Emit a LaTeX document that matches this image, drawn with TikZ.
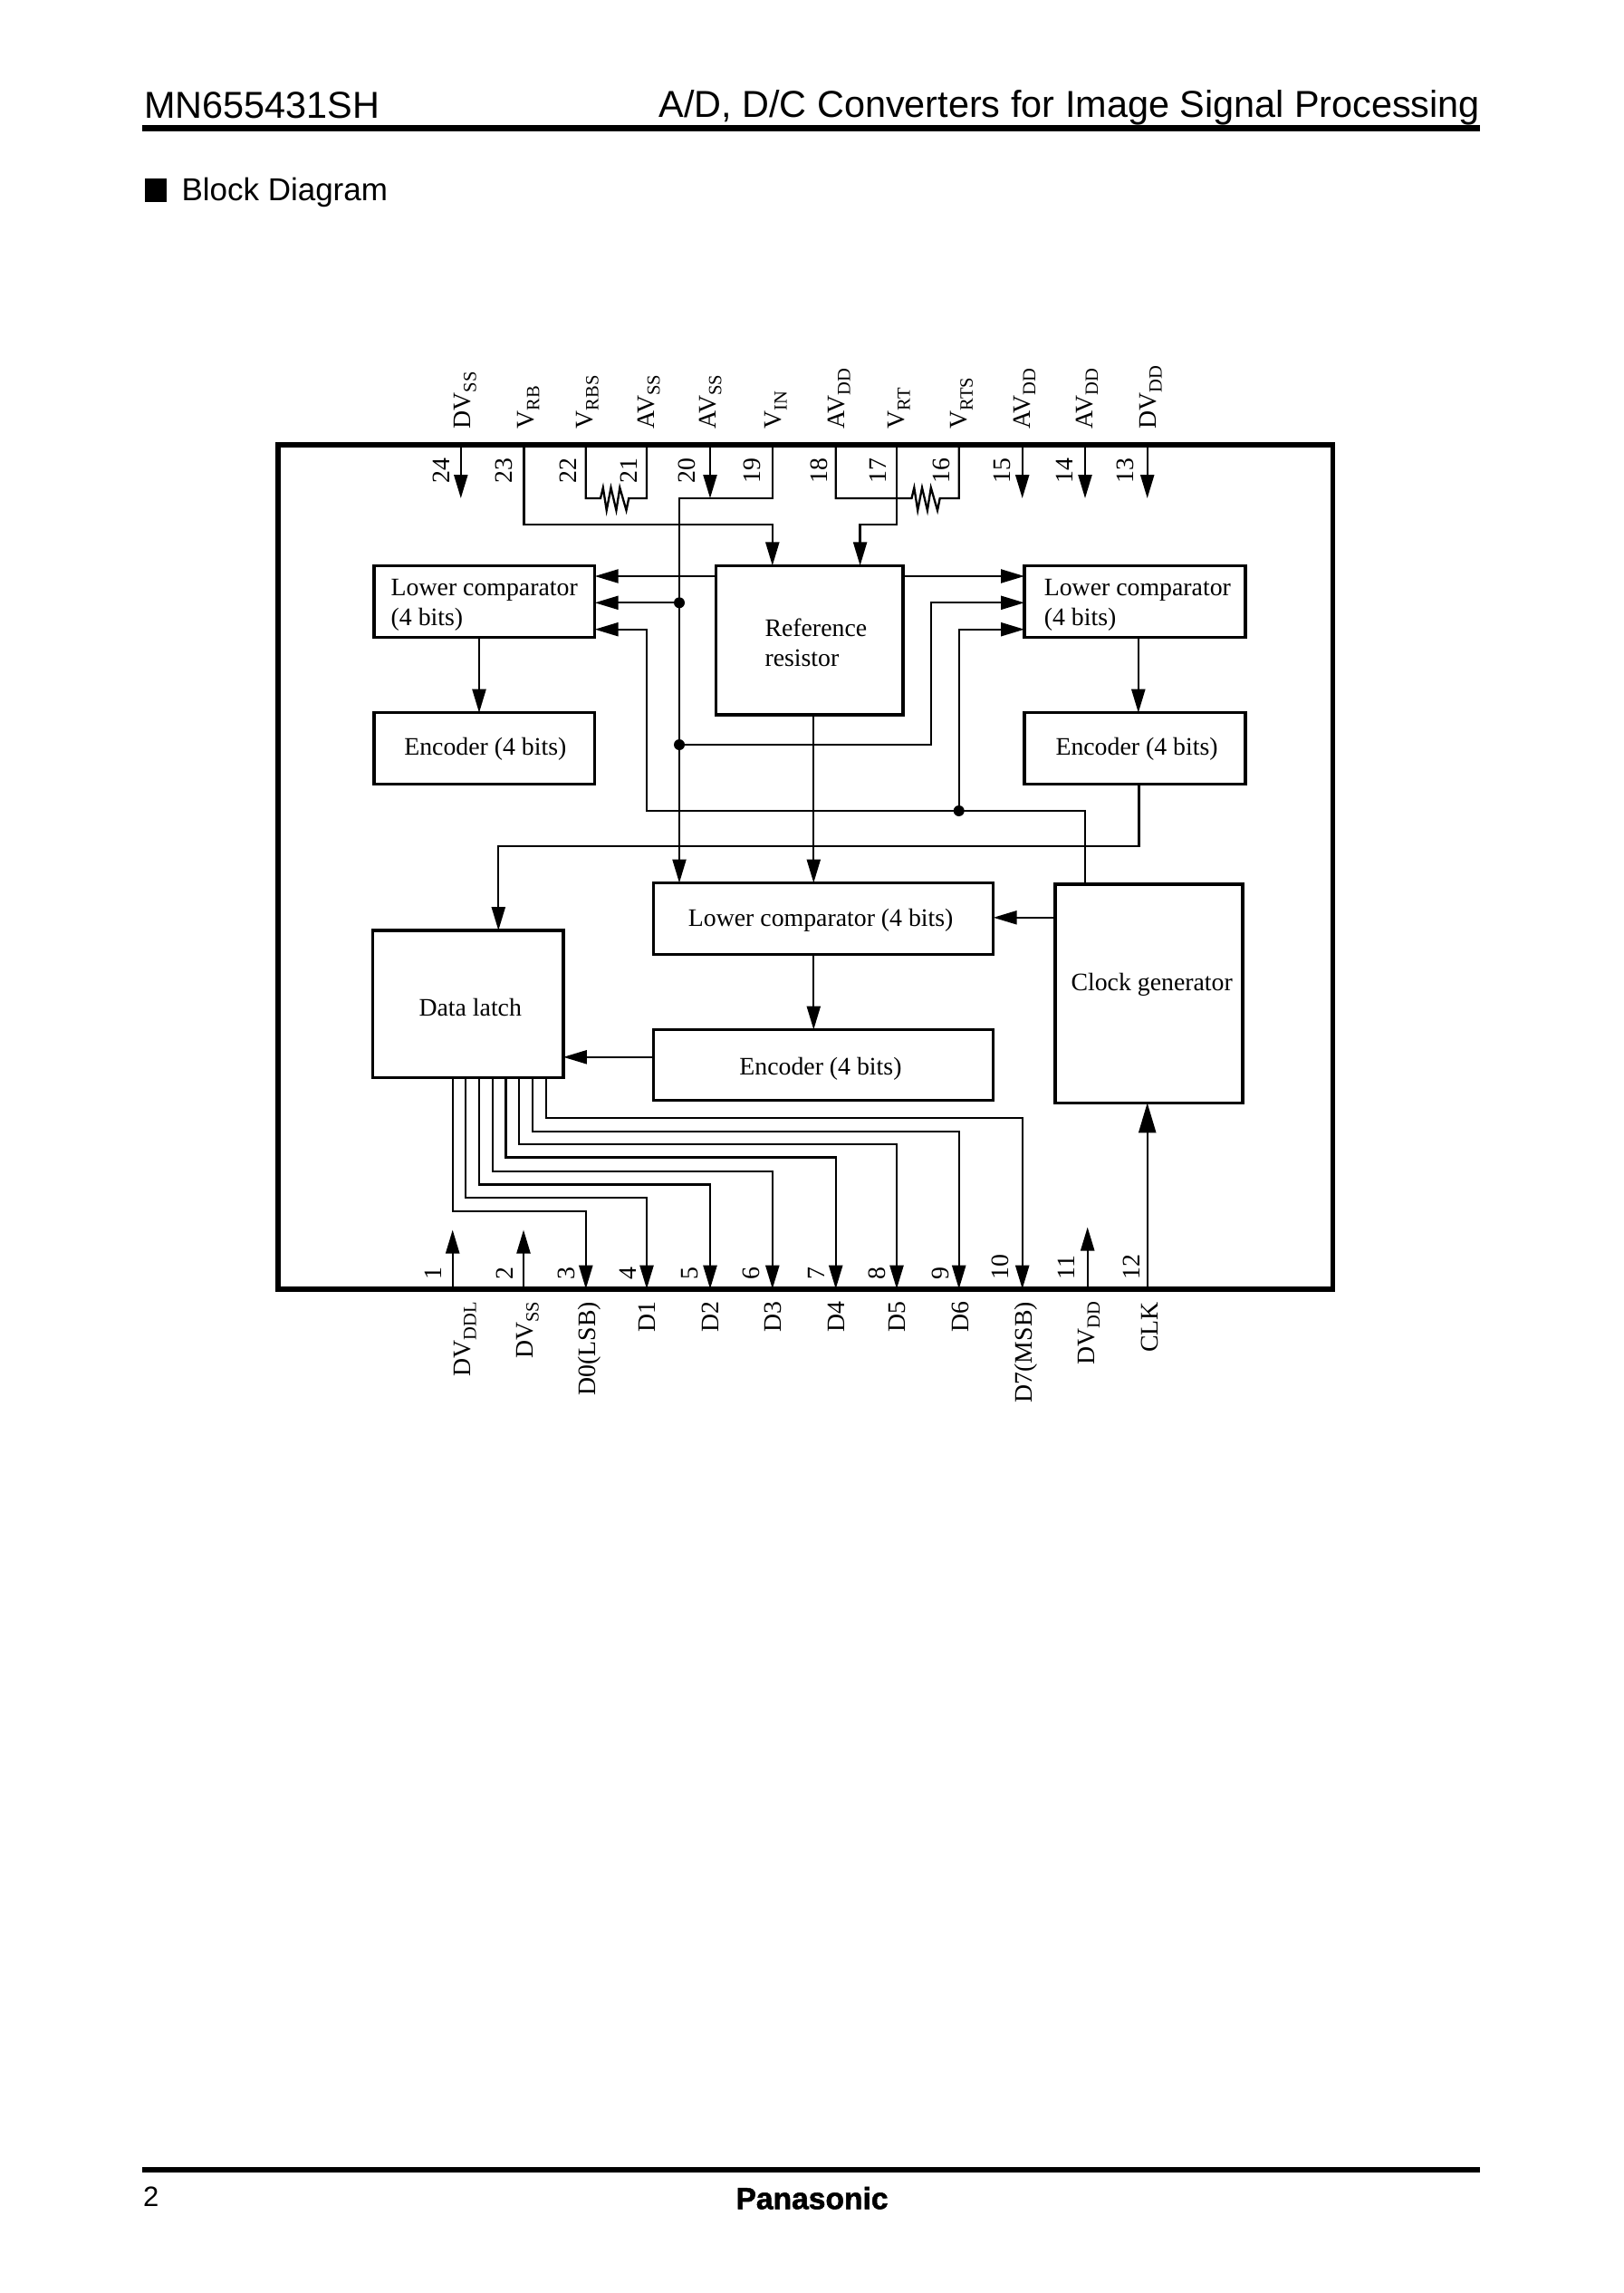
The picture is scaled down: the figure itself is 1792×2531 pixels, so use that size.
\documentclass[tikz,border=0pt]{standalone}
\usepackage{fontspec}
\setmainfont{Liberation Serif}
\newfontfamily\hvfont{Liberation Sans}
\newfontfamily\brandfont[FakeBold=1.5]{Liberation Sans Bold}
\usetikzlibrary{arrows.meta,calc}
\newcommand{\lbl}[3]{\smash{\raisebox{#2pt}{\makebox[0pt][l]{\hspace*{#1pt}#3}}}}
\newcommand{\sbs}[1]{\raisebox{-6pt}{\fontsize{20.5}{21}\selectfont #1}}
\tikzset{
  wire/.style={line width=2.3pt,line join=miter},
  arr/.style={wire,-{Triangle[length=26pt,width=15pt]}},
  bigarr/.style={wire,-{Triangle[length=33pt,width=19pt]}},
  blk/.style={draw,line width=3.2pt,inner sep=0pt,outer sep=0pt,font=\fontsize{27.8}{30}\selectfont},
  dotn/.style={circle,fill=black,inner sep=0pt,minimum size=12pt,outer sep=0pt},
  vlab/.style={rotate=90,inner sep=0pt,outer sep=0pt,font=\fontsize{27.8}{30}\selectfont},
  toplab/.style={vlab,anchor=base west},
  botlab/.style={vlab,anchor=base east},
  hdr/.style={inner sep=0pt,outer sep=0pt,font=\hvfont\fontsize{41.4}{44}\selectfont},
  rule/.style={fill=black,draw=none}
}
\begin{document}
\begin{tikzpicture}[x=1pt,y=-1pt]
\useasboundingbox (0,0) rectangle (1792,2531);
\fill[white] (0,0) rectangle (1792,2531);

% page furniture
\node[hdr,anchor=base west] (title) at (159,130.3) {MN655431SH};
\node[hdr,anchor=base east] (subtitle) at (1634,129.6) {A/D, D/C Converters for Image Signal Processing};
\fill[rule] (157,138) rectangle (1634,144.7);
\fill[rule] (160.4,197.3) rectangle (184.4,222.7);
\node[hdr,anchor=base west,font=\hvfont\fontsize{35}{37}\selectfont] (section) at (200.5,222) {Block Diagram};
\fill[rule] (157,2392.3) rectangle (1634,2398);
\node[hdr,anchor=base west,font=\hvfont\fontsize{31}{33}\selectfont] (page) at (158,2435) {2};
\node[hdr,anchor=base west,font=\brandfont\fontsize{33.6}{36}\selectfont] (brand) at (812.5,2438.3) {Panasonic};

% package outline
\node[draw,line width=5.8pt,inner sep=0pt,outer sep=0pt,minimum width=1164.8pt,minimum height=931.7pt] (frame) at (889.1,956.85) {};

% blocks
\node[blk,minimum width=243.7pt,minimum height=79pt] (lc) at (534.85,663.8) {\lbl{-103.15}{6.1}{Lower comparator}\lbl{-103.15}{-26.2}{(4 bits)}};
\node[blk,minimum width=243.7pt,minimum height=78.6pt] (le) at (534.85,826) {\lbl{-88.55}{-7.3}{Encoder (4 bits)}};
\node[blk,minimum width=206.7pt,minimum height=164.7pt] (ref) at (893.65,706.65) {\lbl{-49.15}{4.2}{Reference}\lbl{-49.15}{-28.35}{resistor}};
\node[blk,minimum width=244pt,minimum height=79pt] (rc) at (1253,663.8) {\lbl{-100.2}{6.1}{Lower comparator}\lbl{-100.2}{-26.2}{(4 bits)}};
\node[blk,minimum width=244pt,minimum height=78.6pt] (re) at (1253,826) {\lbl{-87.5}{-7.3}{Encoder (4 bits)}};
\node[blk,minimum width=375.2pt,minimum height=78.7pt] (mc) at (909.1,1013.85) {\lbl{-149.2}{-8.15}{Lower comparator (4 bits)}};
\node[blk,minimum width=375.2pt,minimum height=78.3pt] (me) at (909.1,1175.65) {\lbl{-92.7}{-10.35}{Encoder (4 bits)}};
\node[blk,minimum width=210.4pt,minimum height=162.6pt] (latch) at (516.7,1108.3) {\lbl{-54.2}{-12.7}{Data latch}};
\node[blk,minimum width=207pt,minimum height=241.3pt] (clk) at (1268.5,1096.65) {\lbl{-86}{3.4}{Clock generator}};

% pin points on the frame
\foreach \n/\x in {24/508.8,23/578.4,22/646.8,21/714,20/784,19/852.8,18/922.7,17/990,16/1058.7,15/1128.7,14/1198,13/1266.7}
  \coordinate (p\n) at (\x,491);
\foreach \n/\x in {1/499.7,2/578,3/646.8,4/714,5/784,6/852.8,7/922.7,8/990,9/1058.7,10/1128.7,11/1200.7,12/1266.7}
  \coordinate (p\n) at (\x,1422.7);

% pin numbers
\foreach \n/\x in {24/496.5,23/565.7,22/636.9,21/703.3,20/767.4,19/839.7,18/913,17/978.9,16/1048,15/1115.3,14/1184.5,13/1251.7}
  \node[toplab] (n\n) at (\x,533) {\n};
\foreach \n/\x in {1/487.8,2/566.9,3/634.9,4/702,5/770.5,6/838.5,7/910.4,8/977.7,9/1047,10/1113.3,11/1186.4,12/1258.4}
  \node[toplab] (n\n) at (\x,1412) {\n};

% top signal names
\node[toplab] (s24) at (519.5,473.3) {DV\sbs{SS}};
\node[toplab] (s23) at (589.4,473.3) {V\sbs{RB}};
\node[toplab] (s22) at (654.7,473.3) {V\sbs{RBS}};
\node[toplab] (s21) at (722.3,473.3) {AV\sbs{SS}};
\node[toplab] (s20) at (790.3,473.3) {AV\sbs{SS}};
\node[toplab] (s19) at (862.7,473.3) {V\sbs{IN}};
\node[toplab] (s18) at (932.6,473.3) {AV\sbs{DD}};
\node[toplab] (s17) at (998.6,473.3) {V\sbs{RT}};
\node[toplab] (s16) at (1067.8,473.3) {V\sbs{RTS}};
\node[toplab] (s15) at (1137,473.3) {AV\sbs{DD}};
\node[toplab] (s14) at (1206,473.3) {AV\sbs{DD}};
\node[toplab] (s13) at (1276.6,473.3) {DV\sbs{DD}};

% bottom signal names
\node[botlab] (s1) at (519.5,1437) {DV\sbs{DDL}};
\node[botlab] (s2) at (588.6,1437) {DV\sbs{SS}};
\node[botlab] (s3) at (657.8,1437) {D0(LSB)};
\node[botlab] (s4) at (723.9,1437) {D1};
\node[botlab] (s5) at (793.5,1437) {D2};
\node[botlab] (s6) at (862.7,1437) {D3};
\node[botlab] (s7) at (932.6,1437) {D4};
\node[botlab] (s8) at (999.4,1437) {D5};
\node[botlab] (s9) at (1069,1437) {D6};
\node[botlab] (s10) at (1139,1437) {D7(MSB)};
\node[botlab] (s11) at (1208,1437) {DV\sbs{DD}};
\node[botlab] (s12) at (1278,1437) {CLK};

% routing levels and columns
\coordinate (tipT) at (0,550);
\coordinate (yv) at (0,578.7);
\coordinate (a1) at (0,636);
\coordinate (a3) at (0,694.7);
\coordinate (yclk) at (0,895);
\coordinate (yenc) at (0,933.7);
\coordinate (xvin) at (750,0);
\coordinate (xref1) at (852.8,0);
\coordinate (xref2) at (949.6,0);
\coordinate (xdown) at (898.3,0);
\coordinate (xl) at (529,0);
\coordinate (xr) at (1256.8,0);
\coordinate (xrout) at (1257.6,0);
\coordinate (xlatch) at (550.3,0);
\coordinate (xck) at (1198.3,0);
\coordinate (xleft) at (714,0);
\coordinate (xmid) at (1028.3,0);
\coordinate (ymc) at (0,1012.8);
\coordinate (yme) at (0,1166.8);

% junction dots
\node[dotn] (d1) at (750,665.3) {};
\node[dotn] (d2) at (750,822) {};
\node[dotn] (d3) at (1058.7,895) {};

% supply stubs, top
\foreach \n in {24,20,15,14,13}
  \draw[arr] (p\n) -- (p\n |- tipT);

% resistors
\draw[wire] (p22) |- ++(16.2,59) -- ++(2.8,-11.7) -- ++(3.9,25) -- ++(4.8,-25) -- ++(5.9,25) -- ++(3.9,-25) -- ++(7.2,25) -- ++(2.7,-13.3) -| (p21);
\draw[wire] (p18) |- ++(83.8,59) -- ++(2.8,-11.7) -- ++(3.9,25) -- ++(4.8,-25) -- ++(5.9,25) -- ++(3.9,-25) -- ++(7.2,25) -- ++(2.7,-13.3) -| (p16);

% reference feeds
\draw[arr] (p23) |- (xref1 |- yv) -- (xref1 |- ref.north);
\draw[arr] (p17) |- (xref2 |- yv) -- (xref2 |- ref.north);

% V_IN bus
\draw[arr] (p19) |- (xvin |- tipT) -- (xvin |- mc.north);

% into the comparators
\draw[arr] (ref.west |- a1) -- (lc.east |- a1);
\draw[arr] (ref.east |- a1) -- (rc.west |- a1);
\draw[arr] (d1) -- (d1 -| lc.east);
\draw[arr] (d2) -- (xmid |- d2) -- (xmid |- d1) -- (rc.west |- d1);
\draw[arr] (d3) -- (d3 |- a3) -- (rc.west |- a3);
\draw[arr] (xck |- clk.north) -- (xck |- yclk) -- (xleft |- yclk) -- (xleft |- a3) -- (lc.east |- a3);
\draw[arr] (xdown |- ref.south) -- (xdown |- mc.north);

% comparators to encoders
\draw[arr] (xl |- lc.south) -- (xl |- le.north);
\draw[arr] (xr |- rc.south) -- (xr |- re.north);
\draw[arr] (xdown |- mc.south) -- (xdown |- me.north);

% encoders to latch, clock
\draw[arr] (xrout |- re.south) -- (xrout |- yenc) -- (xlatch |- yenc) -- (xlatch |- latch.north);
\draw[arr] (me.west |- yme) -- (latch.east |- yme);
\draw[arr] (clk.west |- ymc) -- (mc.east |- ymc);

% data outputs
\foreach \x/\y/\n in {499.7/1336.9/3,513.9/1322/4,529/1307.4/5,544/1292.7/6,558.6/1277.5/7,573.2/1262.8/8,588.3/1248.9/9,602.9/1233.8/10}
  \draw[arr] (\x,0 |- latch.south) -- (\x,\y) -| (p\n);

% supply stubs, bottom
\coordinate (tipB) at (0,1357.5);
\coordinate (tipC) at (0,1354.5);
\draw[arr] (p1) -- (p1 |- tipB);
\draw[arr] (p2) -- (p2 |- tipB);
\draw[arr] (p11) -- (p11 |- tipC);
\draw[bigarr] (p12) -- (p12 |- clk.south);
\end{tikzpicture}
\end{document}
